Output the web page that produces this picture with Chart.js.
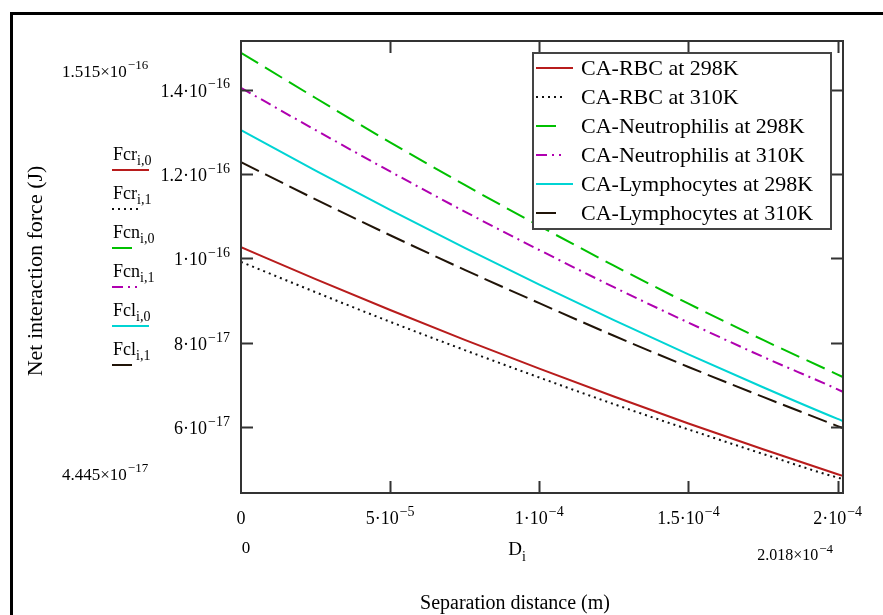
<!DOCTYPE html>
<html>
<head>
<meta charset="utf-8">
<title>Net interaction force vs separation distance</title>
<script src="https://cdn.jsdelivr.net/npm/chart.js@4.4.1/dist/chart.umd.min.js"></script>
<style>
  html, body { margin: 0; padding: 0; background: #fff; }
  #wrap { width: 883px; height: 615px; position: relative; }
</style>
</head>
<body>
<div id="wrap"><canvas id="forceChart"></canvas></div>
<script>
(() => {
  "use strict";

  // ====== Data ======
  const separation = [0, 2.5e-5, 5e-5, 7.5e-5, 1e-4, 1.25e-4, 1.5e-4, 1.75e-4, 2e-4, 2.018e-4];

  const rbc298   = [1.027e-16, 9.51e-17, 8.78e-17, 8.07e-17, 7.39e-17, 6.73e-17, 6.09e-17, 5.48e-17, 4.89e-17, 4.85e-17];
  const rbc310   = [9.92e-17, 9.20e-17, 8.50e-17, 7.83e-17, 7.18e-17, 6.55e-17, 5.95e-17, 5.37e-17, 4.81e-17, 4.78e-17];
  const neut298  = [1.487e-16, 1.380e-16, 1.275e-16, 1.174e-16, 1.077e-16, 9.83e-17, 8.93e-17, 8.07e-17, 7.25e-17, 7.19e-17];
  const neut310  = [1.404e-16, 1.304e-16, 1.206e-16, 1.111e-16, 1.020e-16, 9.32e-17, 8.48e-17, 7.67e-17, 6.90e-17, 6.84e-17];
  const lymph298 = [1.304e-16, 1.208e-16, 1.115e-16, 1.025e-16, 9.38e-17, 8.54e-17, 7.73e-17, 6.95e-17, 6.20e-17, 6.15e-17];
  const lymph310 = [1.228e-16, 1.140e-16, 1.055e-16, 9.73e-17, 8.94e-17, 8.17e-17, 7.43e-17, 6.72e-17, 6.03e-17, 5.98e-17];

  const seriesLabels = [
    "CA-RBC at 298K",
    "CA-RBC at 310K",
    "CA-Neutrophilis at 298K",
    "CA-Neutrophilis at 310K",
    "CA-Lymphocytes at 298K",
    "CA-Lymphocytes at 310K"
  ];

  // Mathcad trace names shown left of the y axis
  const traceNames = ["Fcr", "Fcr", "Fcn", "Fcn", "Fcl", "Fcl"];
  const traceSubs = ["i,0", "i,1", "i,0", "i,1", "i,0", "i,1"];

  const xTickValues = [0, 5e-5, 1e-4, 1.5e-4, 2e-4];
  const xTickBase = ["0", "5\u00B710", "1\u00B710", "1.5\u00B710", "2\u00B710"];
  const xTickExp = ["", "\u22125", "\u22124", "\u22124", "\u22124"];

  const yTickValues = [6e-17, 8e-17, 1e-16, 1.2e-16, 1.4e-16];
  const yTickBase = ["6\u00B710", "8\u00B710", "1\u00B710", "1.2\u00B710", "1.4\u00B710"];
  const yTickExp = ["\u221217", "\u221217", "\u221216", "\u221216", "\u221216"];

  const X_MIN = 0;
  const X_MAX = 2.018e-4;
  const Y_MIN = 4.445e-17;
  const Y_MAX = 1.515e-16;

  // ====== Styles ======
  const SERIF = '"Liberation Serif", "Times New Roman", serif';
  const font = (px) => `${px}px ${SERIF}`;

  const seriesData = [rbc298, rbc310, neut298, neut310, lymph298, lymph310];
  const seriesColors = ["#b81c1c", "#101010", "#00c000", "#b000b0", "#00d4d4", "#201408"];
  const seriesDash = [[], [2, 4], [20, 8], [11, 5, 2, 5], [], [20, 7]];
  const legendSample = [37, 28, 22, 25, 37, 20]; // sample line lengths

  // ====== Helpers ======
  function drawSci(ctx, base, exp, x, y, align, size, expSize) {
    ctx.font = font(size);
    const wb = ctx.measureText(base).width;
    ctx.font = font(expSize);
    const we = exp ? ctx.measureText(exp).width + 1 : 0;
    const total = wb + we;
    let x0 = x;
    if (align === "center") x0 = x - total / 2;
    else if (align === "right") x0 = x - total;
    ctx.textAlign = "left";
    ctx.textBaseline = "alphabetic";
    ctx.fillStyle = "#000";
    ctx.font = font(size);
    ctx.fillText(base, x0, y);
    if (exp) {
      ctx.font = font(expSize);
      ctx.fillText(exp, x0 + wb + 1, y - size * 0.45);
    }
  }

  function drawSub(ctx, base, sub, x, y, align, size, subSize) {
    ctx.font = font(size);
    const wb = ctx.measureText(base).width;
    ctx.font = font(subSize);
    const ws = ctx.measureText(sub).width;
    let x0 = x;
    if (align === "center") x0 = x - (wb + ws) / 2;
    ctx.textAlign = "left";
    ctx.textBaseline = "alphabetic";
    ctx.fillStyle = "#000";
    ctx.font = font(size);
    ctx.fillText(base, x0, y);
    ctx.font = font(subSize);
    ctx.fillText(sub, x0 + wb, y + size * 0.3);
  }

  function strokeSample(ctx, i, x1, x2, y) {
    ctx.save();
    ctx.strokeStyle = seriesColors[i];
    ctx.lineWidth = 2;
    ctx.setLineDash(seriesDash[i]);
    ctx.beginPath();
    ctx.moveTo(x1, y);
    ctx.lineTo(x2, y);
    ctx.stroke();
    ctx.restore();
  }

  // ====== Mathcad-like decorations ======
  const mathcadDecor = {
    id: "mathcadDecor",
    afterDraw(chart) {
      const { ctx, chartArea: a, scales } = chart;
      const xs = scales.x;
      const ys = scales.y;
      ctx.save();

      // outer frame (top and left only)
      ctx.fillStyle = "#000";
      ctx.fillRect(10, 12, 873, 3);
      ctx.fillRect(10, 12, 3, 603);

      // plot box
      ctx.strokeStyle = "#333";
      ctx.lineWidth = 2;
      ctx.setLineDash([]);
      ctx.strokeRect(a.left, a.top, a.right - a.left, a.bottom - a.top);

      // inward ticks on all four sides
      ctx.beginPath();
      yTickValues.forEach((v) => {
        const py = Math.round(ys.getPixelForValue(v)) + 0.5;
        ctx.moveTo(a.left, py); ctx.lineTo(a.left + 12, py);
        ctx.moveTo(a.right, py); ctx.lineTo(a.right - 12, py);
      });
      xTickValues.forEach((v) => {
        if (v === X_MIN) return;
        const px = Math.round(xs.getPixelForValue(v)) + 0.5;
        ctx.moveTo(px, a.bottom); ctx.lineTo(px, a.bottom - 12);
        ctx.moveTo(px, a.top); ctx.lineTo(px, a.top + 12);
      });
      ctx.stroke();

      // tick labels
      yTickValues.forEach((v, i) => {
        const py = ys.getPixelForValue(v);
        drawSci(ctx, yTickBase[i], yTickExp[i], 230, py + 7, "right", 18, 14);
      });
      xTickValues.forEach((v, i) => {
        const px = xs.getPixelForValue(v);
        drawSci(ctx, xTickBase[i], xTickExp[i], px, 524, "center", 18, 14);
      });

      // axis limits (Mathcad style)
      drawSci(ctx, "1.515\u00D710", "\u221216", 62, 77, "left", 17, 13);
      drawSci(ctx, "4.445\u00D710", "\u221217", 62, 480, "left", 17, 13);
      drawSci(ctx, "0", "", 246, 553, "center", 17, 13);
      drawSci(ctx, "2.018\u00D710", "\u22124", 833, 560, "right", 16, 13);
      drawSub(ctx, "D", "i", 517, 555, "center", 19, 14);

      // axis titles
      ctx.fillStyle = "#000";
      ctx.font = font(20);
      ctx.textAlign = "center";
      ctx.textBaseline = "alphabetic";
      ctx.fillText("Separation distance (m)", 515, 609);

      ctx.save();
      ctx.translate(42, 271);
      ctx.rotate(-Math.PI / 2);
      ctx.font = font(22);
      ctx.fillText("Net interaction force (J)", 0, 0);
      ctx.restore();

      // trace names on the left
      traceNames.forEach((name, i) => {
        const ty = 160 + i * 39;
        drawSub(ctx, name, traceSubs[i], 113, ty, "left", 18, 14);
        strokeSample(ctx, i, 112, 112 + legendSample[i], ty + 10);
      });

      // legend box
      const lx = 533, ly = 53, lw = 298, lh = 176;
      ctx.fillStyle = "#fff";
      ctx.fillRect(lx, ly, lw, lh);
      ctx.strokeStyle = "#444";
      ctx.lineWidth = 2;
      ctx.setLineDash([]);
      ctx.strokeRect(lx, ly, lw, lh);
      seriesLabels.forEach((label, i) => {
        const ry = 68 + i * 29;
        strokeSample(ctx, i, lx + 3, lx + 3 + legendSample[i], ry);
        ctx.fillStyle = "#000";
        ctx.font = font(22);
        ctx.textAlign = "left";
        ctx.textBaseline = "middle";
        ctx.fillText(label, 581, ry + 1);
      });

      ctx.restore();
    }
  };

  // ====== Chart setup ======
  const datasets = seriesLabels.map((label, i) => ({
    label,
    data: separation.map((x, k) => ({ x, y: seriesData[i][k] })),
    borderColor: seriesColors[i],
    borderWidth: 2,
    borderDash: seriesDash[i],
    pointRadius: 0,
    fill: false,
    cubicInterpolationMode: "monotone"
  }));

  new Chart(document.getElementById("forceChart").getContext("2d"), {
    type: "line",
    data: { datasets },
    options: {
      responsive: true,
      maintainAspectRatio: false,
      animation: false,
      layout: { padding: { left: 0, top: 41, right: 40, bottom: 0 } },
      plugins: {
        legend: { display: false },
        tooltip: { enabled: false }
      },
      scales: {
        x: {
          type: "linear",
          min: X_MIN,
          max: X_MAX,
          grid: { display: false },
          border: { display: false },
          ticks: { display: false },
          afterFit: (s) => { s.height = 122; }
        },
        y: {
          type: "linear",
          min: Y_MIN,
          max: Y_MAX,
          grid: { display: false },
          border: { display: false },
          ticks: { display: false },
          afterFit: (s) => { s.width = 241; }
        }
      }
    },
    plugins: [mathcadDecor]
  });
})();
</script>
</body>
</html>
